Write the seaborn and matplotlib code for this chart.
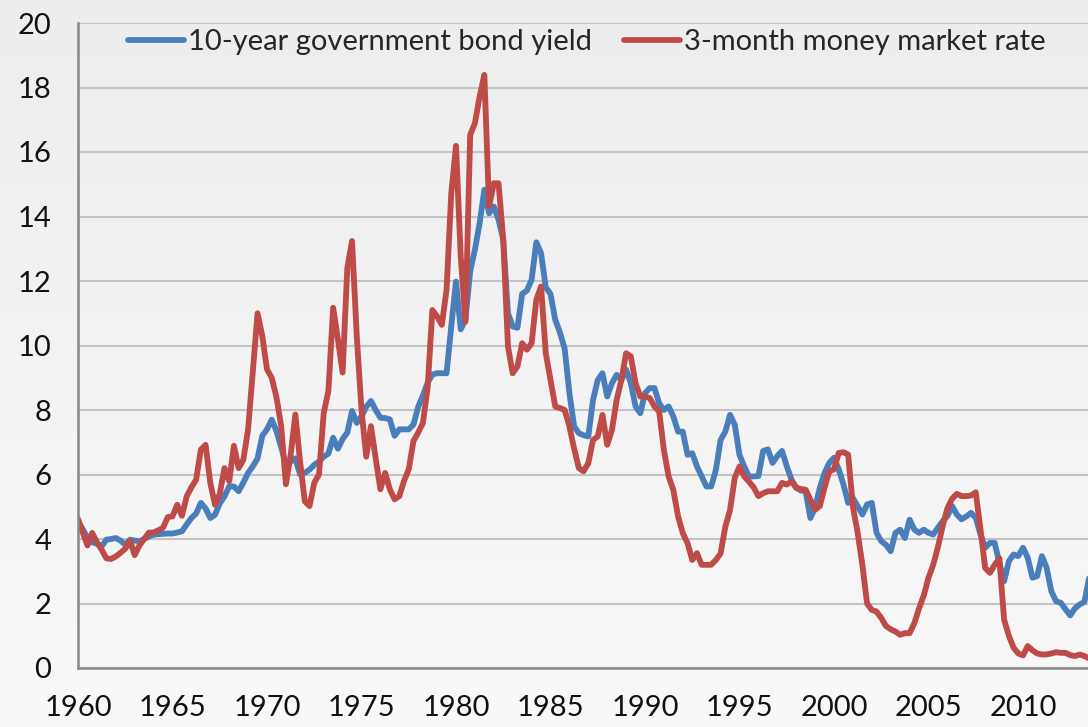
import numpy as np
import pandas as pd
import matplotlib
matplotlib.use("Agg")
import matplotlib.pyplot as plt
import seaborn as sns

# quarterly observations, 1960Q1 onwards
start_year = 1960
bond_10y = [
    4.55, 4.30, 4.05, 3.90,   # 1960
    3.85, 3.77, 3.98, 4.00,   # 1961
    4.03, 3.95, 3.82, 3.98,   # 1962
    3.95, 3.93, 4.00, 4.08,   # 1963
    4.13, 4.15, 4.16, 4.17,   # 1964
    4.17, 4.20, 4.24, 4.45,   # 1965
    4.65, 4.79, 5.12, 4.95,   # 1966
    4.65, 4.75, 5.10, 5.32,   # 1967
    5.63, 5.63, 5.48, 5.75,   # 1968
    6.05, 6.25, 6.50, 7.20,   # 1969
    7.40, 7.70, 7.35, 6.85,   # 1970
    6.30, 6.40, 6.50, 6.00,   # 1971
    6.05, 6.15, 6.30, 6.40,   # 1972
    6.55, 6.65, 7.14, 6.80,   # 1973
    7.10, 7.30, 7.97, 7.60,   # 1974
    7.80, 8.10, 8.28, 8.00,   # 1975
    7.76, 7.75, 7.71, 7.20,   # 1976
    7.40, 7.40, 7.40, 7.55,   # 1977
    8.10, 8.45, 8.85, 9.10,   # 1978
    9.14, 9.14, 9.14, 10.60,  # 1979
    11.98, 10.50, 10.80, 12.30,  # 1980
    12.97, 13.79, 14.83, 14.10,  # 1981
    14.31, 13.90, 13.28, 11.00,  # 1982
    10.59, 10.55, 11.60, 11.70,  # 1983
    12.04, 13.20, 12.86, 11.80,  # 1984
    11.60, 10.80, 10.40, 9.90,   # 1985
    8.53, 7.49, 7.28, 7.22,   # 1986
    7.18, 8.31, 8.93, 9.14,   # 1987
    8.42, 8.83, 9.09, 8.93,   # 1988
    9.25, 8.83, 8.11, 7.90,   # 1989
    8.52, 8.68, 8.68, 8.21,   # 1990
    8.00, 8.11, 7.80, 7.33,   # 1991
    7.33, 6.61, 6.66, 6.25,   # 1992
    5.94, 5.63, 5.63, 6.14,   # 1993
    7.07, 7.33, 7.85, 7.54,   # 1994
    6.61, 6.25, 5.94, 5.94,   # 1995
    5.95, 6.73, 6.78, 6.36,   # 1996
    6.57, 6.73, 6.26, 5.84,   # 1997
    5.59, 5.50, 5.48, 4.65,   # 1998
    4.96, 5.59, 6.05, 6.36,   # 1999
    6.52, 6.16, 5.69, 5.12,   # 2000
    5.27, 5.02, 4.76, 5.07,   # 2001
    5.12, 4.19, 3.93, 3.82,   # 2002
    3.62, 4.19, 4.29, 4.03,   # 2003
    4.60, 4.29, 4.19, 4.29,   # 2004
    4.19, 4.14, 4.35, 4.55,   # 2005
    4.71, 5.02, 4.76, 4.61,   # 2006
    4.70, 4.81, 4.66, 4.14,   # 2007
    3.73, 3.88, 3.88, 3.26,   # 2008
    2.69, 3.31, 3.52, 3.47,   # 2009
    3.73, 3.42, 2.80, 2.85,   # 2010
    3.47, 3.11, 2.38, 2.07,   # 2011
    2.02, 1.82, 1.63, 1.85,   # 2012
    1.97, 2.05, 2.80,         # 2013
]
money_3m = [
    4.62, 4.20, 3.80, 4.19,   # 1960
    3.90, 3.67, 3.40, 3.38,   # 1961
    3.46, 3.57, 3.70, 3.95,   # 1962
    3.50, 3.80, 4.00, 4.20,   # 1963
    4.20, 4.27, 4.35, 4.68,   # 1964
    4.70, 5.06, 4.72, 5.32,   # 1965
    5.60, 5.84, 6.77, 6.92,   # 1966
    5.74, 5.06, 5.40, 6.20,   # 1967
    5.79, 6.89, 6.20, 6.46,   # 1968
    7.40, 9.20, 11.00, 10.30, # 1969
    9.26, 9.00, 8.40, 7.50,   # 1970
    5.70, 6.60, 7.86, 6.40,   # 1971
    5.17, 5.02, 5.74, 6.00,   # 1972
    7.90, 8.60, 11.17, 10.20, # 1973
    9.16, 12.41, 13.24, 10.29,  # 1974
    8.00, 6.55, 7.50, 6.50,   # 1975
    5.54, 6.05, 5.54, 5.23,   # 1976
    5.33, 5.80, 6.16, 7.04,   # 1977
    7.30, 7.60, 8.70, 11.10,  # 1978
    10.90, 10.64, 11.73, 14.72,  # 1979
    16.19, 12.76, 10.74, 16.53,  # 1980
    16.89, 17.72, 18.39, 14.31,  # 1981
    15.03, 15.03, 13.28, 9.97,   # 1982
    9.14, 9.35, 10.07, 9.87,  # 1983
    10.07, 11.42, 11.83, 9.76,   # 1984
    8.94, 8.11, 8.06, 8.00,   # 1985
    7.49, 6.80, 6.20, 6.10,   # 1986
    6.35, 7.07, 7.18, 7.85,   # 1987
    6.92, 7.38, 8.31, 8.93,   # 1988
    9.76, 9.66, 8.83, 8.42,   # 1989
    8.42, 8.37, 8.11, 7.95,   # 1990
    6.76, 5.94, 5.52, 4.70,   # 1991
    4.18, 3.87, 3.35, 3.56,   # 1992
    3.20, 3.20, 3.20, 3.35,   # 1993
    3.55, 4.38, 4.90, 5.90,   # 1994
    6.25, 5.94, 5.78, 5.60,   # 1995
    5.33, 5.42, 5.48, 5.48,   # 1996
    5.48, 5.74, 5.69, 5.79,   # 1997
    5.59, 5.55, 5.53, 5.22,   # 1998
    4.91, 5.02, 5.59, 6.10,   # 1999
    6.16, 6.67, 6.69, 6.62,   # 2000
    5.00, 4.20, 3.20, 2.00,   # 2001
    1.80, 1.75, 1.55, 1.30,   # 2002
    1.20, 1.13, 1.03, 1.08,   # 2003
    1.08, 1.39, 1.85, 2.25,   # 2004
    2.80, 3.20, 3.75, 4.40,   # 2005
    4.95, 5.25, 5.40, 5.33,   # 2006
    5.33, 5.35, 5.45, 4.30,   # 2007
    3.10, 2.95, 3.20, 3.40,   # 2008
    1.50, 1.00, 0.63, 0.45,   # 2009
    0.39, 0.68, 0.55, 0.45,   # 2010
    0.42, 0.42, 0.45, 0.49,   # 2011
    0.47, 0.47, 0.40, 0.37,   # 2012
    0.42, 0.37, 0.30,         # 2013
]
series_names = ["10-year government bond yield", "3-month money market rate"]
series_colors = ["#4a7ebb", "#be4b48"]
year_ticks = list(range(1960, 2014))
year_labels = [str(y) if y % 5 == 0 else "" for y in year_ticks]
y_ticks = [0, 2, 4, 6, 8, 10, 12, 14, 16, 18, 20]

df = pd.concat([
    pd.DataFrame({"t": start_year + np.arange(len(bond_10y)) * 0.25,
                  "rate": bond_10y, "series": series_names[0]}),
    pd.DataFrame({"t": start_year + np.arange(len(money_3m)) * 0.25,
                  "rate": money_3m, "series": series_names[1]}),
])

sns.set_theme(style="white")
plt.rcParams["font.family"] = ["Lato", "DejaVu Sans"]

fig = plt.figure(figsize=(10.88, 7.27), dpi=100, facecolor="#f3f3f3")
# soft vertical gradient background
bg = fig.add_axes([0, 0, 1, 1], zorder=-10)
grad = np.linspace(0.93, 0.975, 256).reshape(-1, 1)
bg.imshow(np.dstack([grad, grad, grad]), aspect="auto", extent=[0, 1, 0, 1])
bg.axis("off")

ax = fig.add_axes([78 / 1088, 1 - 668 / 727, 1010 / 1088, (668 - 23) / 727])
ax.patch.set_alpha(0)

sns.lineplot(data=df, x="t", y="rate", hue="series", hue_order=series_names,
             palette=series_colors, linewidth=4.2, ax=ax, legend=True,
             solid_joinstyle="round", solid_capstyle="round")

ax.set_xlim(1960, 1960 + 1010 / 18.9)
ax.set_ylim(0, 20)
ax.set_yticks(y_ticks)
ax.set_yticklabels([str(v) for v in y_ticks], fontsize=21, color="#111111")
ax.set_xticks(year_ticks)
ax.set_xticklabels(year_labels, fontsize=21, color="#111111")
ax.set_xlabel("")
ax.set_ylabel("")
ax.grid(axis="y", color="#c3c3c3", linewidth=1.5)
ax.set_axisbelow(True)
for side in ["top", "right"]:
    ax.spines[side].set_visible(False)
for side in ["left", "bottom"]:
    ax.spines[side].set_color("#888888")
    ax.spines[side].set_linewidth(1.8)
ax.tick_params(axis="both", which="major", direction="out", length=7.2,
               width=1.5, color="#888888")
ax.tick_params(axis="x", pad=12)
ax.tick_params(axis="y", pad=12)

leg = ax.legend(loc="center", bbox_to_anchor=(0.5035, 0.9705), ncol=2,
                frameon=False, fontsize=21, handlelength=1.93,
                columnspacing=1.1, handletextpad=0.12)
for line in leg.get_lines():
    line.set_linewidth(4.2)

fig.savefig("out.png", dpi=100, facecolor=fig.get_facecolor())
